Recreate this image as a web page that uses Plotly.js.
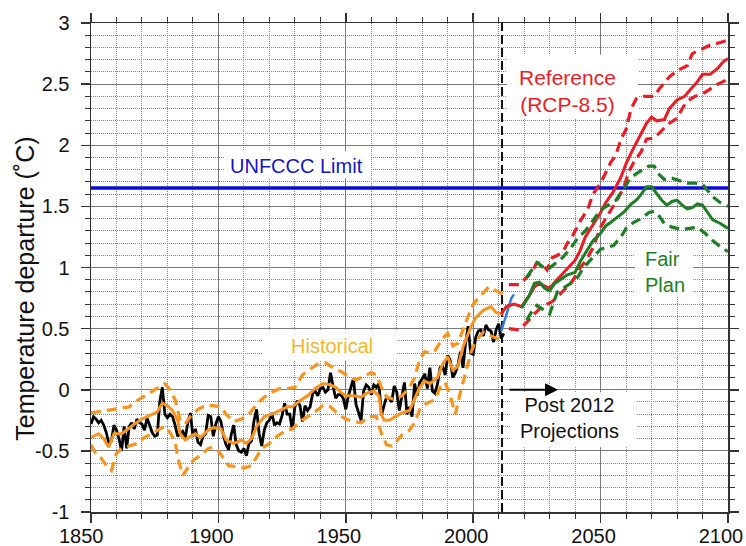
<!DOCTYPE html>
<html><head><meta charset="utf-8">
<script src="https://cdn.plot.ly/plotly-3.0.1.min.js"></script>
<style>html,body{margin:0;padding:0;background:#fff;}#chart{width:746px;height:546px;}</style>
</head><body><div id="chart"></div>
<script>
// ---------- DATA ----------
const obsYears = [1850,1851,1852,1853,1854,1855,1856,1857,1858,1859,
1860,1861,1862,1863,1864,1865,1866,1867,1868,1869,
1870,1871,1872,1873,1874,1875,1876,1877,1878,1879,
1880,1881,1882,1883,1884,1885,1886,1887,1888,1889,
1890,1891,1892,1893,1894,1895,1896,1897,1898,1899,
1900,1901,1902,1903,1904,1905,1906,1907,1908,1909,
1910,1911,1912,1913,1914,1915,1916,1917,1918,1919,
1920,1921,1922,1923,1924,1925,1926,1927,1928,1929,
1930,1931,1932,1933,1934,1935,1936,1937,1938,1939,
1940,1941,1942,1943,1944,1945,1946,1947,1948,1949,
1950,1951,1952,1953,1954,1955,1956,1957,1958,1959,
1960,1961,1962,1963,1964,1965,1966,1967,1968,1969,
1970,1971,1972,1973,1974,1975,1976,1977,1978,1979,
1980,1981,1982,1983,1984,1985,1986,1987,1988,1989,
1990,1991,1992,1993,1994,1995,1996,1997,1998,1999,
2000,2001,2002,2003,2004,2005,2006,2007,2008,2009,
2010,2011,2012];
const obsTemp = [-0.28,-0.22,-0.24,-0.27,-0.25,-0.29,-0.35,-0.44,-0.42,-0.29,
-0.33,-0.40,-0.50,-0.30,-0.48,-0.30,-0.27,-0.32,-0.24,-0.27,
-0.28,-0.33,-0.23,-0.30,-0.35,-0.38,-0.37,-0.10,0.02,-0.20,
-0.23,-0.20,-0.22,-0.29,-0.38,-0.36,-0.34,-0.39,-0.27,-0.19,
-0.38,-0.32,-0.43,-0.45,-0.38,-0.36,-0.21,-0.22,-0.38,-0.28,
-0.22,-0.26,-0.38,-0.45,-0.49,-0.37,-0.29,-0.45,-0.50,-0.51,
-0.48,-0.54,-0.44,-0.42,-0.25,-0.16,-0.36,-0.46,-0.33,-0.27,
-0.25,-0.19,-0.29,-0.27,-0.28,-0.21,-0.11,-0.20,-0.20,-0.33,
-0.14,-0.09,-0.13,-0.26,-0.13,-0.17,-0.14,-0.03,-0.01,-0.05,
0.01,0.02,-0.02,0.00,0.14,0.03,-0.07,-0.04,-0.04,-0.07,
-0.16,-0.05,0.03,0.09,-0.12,-0.18,-0.25,-0.01,0.04,0.02,
-0.04,0.04,0.02,0.05,-0.21,-0.13,-0.06,-0.07,-0.10,0.03,
-0.02,-0.17,-0.06,0.06,-0.20,-0.14,-0.22,0.05,-0.05,0.06,
0.09,0.13,0.01,0.18,-0.01,-0.03,0.05,0.18,0.19,0.12,
0.28,0.24,0.10,0.14,0.20,0.31,0.18,0.38,0.52,0.30,
0.29,0.43,0.48,0.49,0.44,0.53,0.49,0.48,0.39,0.49,
0.54,0.42,0.46];

const histMeanYears = [1850,1853,1855,1857,1859,1862,1864,1867,1870,1873,1876,1878,1880,1882,1884,1885,1887,1889,1891,1893,1896,1898,1901,1903,1906,1909,1911,1913,1915,1918,1921,1924,1927,1929,1932,1935,1938,1941,1944,1946,1948,1950,1953,1956,1958,1961,1963,1964,1965,1967,1970,1972,1975,1977,1979,1981,1983,1986,1988,1990,1992,1994,1996,1999,2001,2004,2007,2009,2012];
const histMean = [-0.39,-0.36,-0.40,-0.47,-0.36,-0.36,-0.33,-0.28,-0.24,-0.21,-0.18,-0.11,-0.13,-0.17,-0.25,-0.36,-0.41,-0.38,-0.36,-0.39,-0.33,-0.31,-0.32,-0.41,-0.44,-0.41,-0.44,-0.40,-0.30,-0.22,-0.20,-0.17,-0.14,-0.14,-0.09,-0.05,0.01,0.05,0.04,0.02,-0.02,-0.05,-0.05,-0.06,-0.03,-0.01,-0.05,-0.20,-0.25,-0.25,-0.21,-0.19,-0.17,-0.08,0.02,0.07,0.05,0.10,0.21,0.27,0.16,0.19,0.35,0.51,0.59,0.65,0.68,0.63,0.62];

const histHiYears = [1850,1853,1856,1859,1862,1865,1868,1871,1874,1877,1879,1881,1883,1885,1887,1889,1892,1895,1898,1901,1903,1906,1909,1912,1915,1918,1921,1924,1927,1930,1933,1936,1939,1942,1945,1948,1951,1954,1957,1960,1962,1964,1966,1969,1972,1975,1977,1979,1981,1983,1985,1988,1990,1992,1994,1996,1998,2000,2003,2006,2008,2010,2012];
const histHi = [-0.19,-0.18,-0.17,-0.16,-0.15,-0.14,-0.09,-0.05,-0.01,0.03,0.05,0.00,-0.08,-0.25,-0.28,-0.22,-0.16,-0.13,-0.13,-0.14,-0.20,-0.26,-0.24,-0.20,-0.12,-0.06,-0.02,0.01,0.01,0.02,0.12,0.17,0.21,0.22,0.18,0.15,0.11,0.08,0.11,0.14,0.12,0.02,-0.06,-0.08,-0.05,0.02,0.10,0.25,0.31,0.30,0.32,0.42,0.46,0.36,0.38,0.50,0.60,0.70,0.77,0.84,0.82,0.80,0.78];

const histLoYears = [1850,1852,1854,1856,1858,1860,1862,1865,1868,1871,1874,1877,1879,1881,1883,1884,1886,1888,1890,1892,1894,1896,1898,1900,1902,1904,1907,1910,1913,1915,1917,1920,1923,1926,1929,1932,1935,1938,1941,1944,1947,1950,1953,1956,1959,1962,1964,1966,1968,1970,1972,1975,1977,1979,1981,1983,1985,1987,1989,1991,1993,1995,1997,1999,2001,2004,2007,2010,2012];
const histLo = [-0.45,-0.53,-0.56,-0.62,-0.66,-0.52,-0.48,-0.46,-0.44,-0.39,-0.36,-0.32,-0.30,-0.35,-0.42,-0.55,-0.70,-0.64,-0.58,-0.55,-0.52,-0.48,-0.47,-0.50,-0.56,-0.62,-0.63,-0.64,-0.62,-0.55,-0.48,-0.44,-0.38,-0.34,-0.32,-0.26,-0.22,-0.18,-0.13,-0.14,-0.20,-0.24,-0.26,-0.27,-0.22,-0.22,-0.36,-0.45,-0.46,-0.42,-0.37,-0.33,-0.27,-0.16,-0.12,-0.10,-0.08,0.02,0.06,-0.05,-0.20,-0.02,0.15,0.30,0.40,0.47,0.44,0.42,0.40];

const recentYears = [2011,2012,2013,2014,2015,2016];
const recentTemp = [0.48,0.55,0.62,0.69,0.75,0.78];

const refYears = [2011,2013,2016,2019,2022,2024,2026,2028,2030,2032,2035,2037,2040,2042,2044,2047,2050,2052,2055,2058,2060,2063,2066,2068,2070,2072,2075,2077,2080,2083,2085,2088,2090,2093,2096,2098,2100];
const refMid = [0.62,0.68,0.70,0.68,0.77,0.84,0.87,0.85,0.83,0.88,0.95,0.99,1.06,1.14,1.25,1.35,1.45,1.53,1.62,1.74,1.85,1.98,2.10,2.18,2.23,2.20,2.21,2.30,2.37,2.40,2.45,2.52,2.58,2.58,2.63,2.68,2.71];
const refHiYears = [2014,2018,2021,2023,2025,2027,2029,2031,2035,2037,2039,2042,2045,2047,2050,2052,2054,2056,2058,2060,2062,2064,2067,2071,2073,2077,2080,2084,2086,2089,2093,2097,2100];
const refHi = [0.86,0.86,0.92,0.96,1.04,1.03,0.98,1.08,1.12,1.20,1.26,1.38,1.48,1.60,1.69,1.78,1.86,1.92,2.05,2.13,2.30,2.38,2.40,2.40,2.46,2.56,2.61,2.65,2.75,2.78,2.82,2.84,2.86];
const refLoYears = [2014,2018,2021,2024,2027,2031,2034,2037,2039,2042,2044,2047,2050,2052,2055,2057,2059,2061,2063,2066,2068,2071,2074,2077,2080,2082,2084,2087,2090,2093,2096,2100];
const refLo = [0.50,0.49,0.55,0.62,0.68,0.72,0.78,0.85,0.89,1.00,1.05,1.16,1.33,1.40,1.50,1.57,1.65,1.78,1.86,1.95,2.05,2.06,2.12,2.18,2.22,2.30,2.36,2.40,2.42,2.46,2.50,2.54];

const fairYears = [2019,2022,2024,2026,2028,2030,2032,2035,2037,2040,2042,2045,2047,2050,2052,2054,2056,2059,2062,2064,2066,2068,2070,2072,2074,2076,2078,2080,2082,2084,2086,2088,2090,2092,2094,2097,2100];
const fairMid = [0.67,0.77,0.87,0.88,0.83,0.81,0.87,0.91,0.94,0.96,1.05,1.15,1.22,1.28,1.34,1.37,1.40,1.45,1.52,1.55,1.60,1.66,1.66,1.60,1.55,1.51,1.54,1.55,1.51,1.48,1.49,1.52,1.51,1.45,1.39,1.36,1.32];
const fairHiYears = [2021,2023,2025,2029,2032,2035,2038,2041,2044,2047,2050,2053,2056,2059,2062,2065,2069,2071,2073,2075,2078,2081,2084,2087,2090,2092,2094,2097,2100];
const fairHi = [0.92,0.98,1.04,0.98,1.03,1.08,1.15,1.24,1.30,1.38,1.47,1.51,1.55,1.64,1.74,1.78,1.83,1.83,1.76,1.72,1.73,1.71,1.69,1.69,1.68,1.63,1.58,1.53,1.50];
const fairLoYears = [2021,2023,2025,2028,2030,2033,2036,2039,2041,2043,2046,2048,2050,2052,2055,2058,2060,2063,2066,2069,2071,2073,2075,2078,2082,2085,2088,2091,2094,2097,2100];
const fairLo = [0.57,0.64,0.69,0.65,0.62,0.80,0.84,0.88,0.92,0.99,1.06,1.11,1.15,1.16,1.18,1.25,1.32,1.37,1.40,1.45,1.46,1.42,1.36,1.33,1.31,1.32,1.33,1.28,1.22,1.17,1.13];

const limitYears = [1850, 2100];
const limitTemp = [1.65, 1.65];
const projectionStartYear = [2011.3, 2011.3];
const projectionLineSpan = [-1, 3];

const xTickVals = [1850,1900,1950,2000,2050,2100];
const xTickText = ['1850\u00a0','1900','1950','2000','2050','2100'];
const yTickVals = [-1,-0.5,0,0.5,1,1.5,2,2.5,3];
const yTickText = ['-1','-0.5','0','0.5','1','1.5','2','2.5','3'];

// ---------- STYLE ----------
const FONT = '"Liberation Sans", Arial, Helvetica, sans-serif';
const ORANGE = '#f7931e', RED = '#ec1c24', GREEN = '#1d7f24', BLUE = '#0a0ad8';
const DASH = '10px,6px';
function line(x, y, color, width, dash){
  return {type:'scatter', mode:'lines', x:x, y:y, line:{color:color, width:width, dash:dash||'solid'},
          hoverinfo:'skip', showlegend:false};
}
const traces = [
  line(projectionStartYear, projectionLineSpan, '#111', 2, '9px,4px'),
  line(limitYears, limitTemp, BLUE, 3.5),
  line(obsYears, obsTemp, '#000', 2.8),
  line(histMeanYears, histMean, ORANGE, 3),
  line(histHiYears, histHi, ORANGE, 3.2, DASH),
  line(histLoYears, histLo, ORANGE, 3.2, DASH),
  line(recentYears, recentTemp, '#2f7de1', 2.5),
  line(refYears, refMid, RED, 3),
  line(refHiYears, refHi, RED, 3.2, DASH),
  line(refLoYears, refLo, RED, 3.2, DASH),
  line(fairYears, fairMid, GREEN, 3),
  line(fairHiYears, fairHi, GREEN, 3.2, DASH),
  line(fairLoYears, fairLo, GREEN, 3.2, DASH)
];

const axisCommon = {
  ticks:'outside', ticklen:9, tickwidth:1.5, tickcolor:'#333',
  showline:true, linecolor:'#333', linewidth:1.5, mirror:'allticks',
  showgrid:true, gridcolor:'#7a7a7a', gridwidth:1, zeroline:false,
  tickfont:{family:FONT, size:20, color:'#111'}
};
function box(x0, x1, y0, y1){
  return {type:'rect', layer:'between', xref:'x', yref:'y', x0:x0, x1:x1, y0:y0, y1:y1,
          fillcolor:'#ffffff', line:{width:0}};
}
const layout = {
  width:746, height:546, autosize:false,
  margin:{l:91, r:18, t:23, b:34, pad:0},
  paper_bgcolor:'#ffffff', plot_bgcolor:'#ffffff',
  font:{family:FONT, size:20, color:'#111'},
  showlegend:false,
  xaxis:Object.assign({}, axisCommon, {
    range:[1850, 2100], tickmode:'array', tickvals:xTickVals, ticktext:xTickText,
    ticklabelstandoff:-4, ticklabelshift:-7, ticklabeloverflow:'allow',
    minor:{tick0:1850, dtick:10, ticks:'outside', ticklen:5, tickwidth:1, tickcolor:'#333',
           showgrid:true, gridcolor:'#8a8a8a', gridwidth:1, griddash:'1px,1px'}
  }),
  yaxis:Object.assign({}, axisCommon, {
    range:[-1, 3], tickmode:'array', tickvals:yTickVals, ticktext:yTickText,
    ticklabelstandoff:7,
    minor:{tick0:-1, dtick:0.1, ticks:'outside', ticklen:5, tickwidth:1, tickcolor:'#333',
           showgrid:true, gridcolor:'#8a8a8a', gridwidth:1, griddash:'1px,1px'}
  }),
  shapes:[
    box(2013.3, 2064.7, 2.22, 2.74),
    box(1902.5, 1959.5, 1.73, 1.95),
    box(2063.5, 2086.3, 0.76, 1.18),
    box(1917.1, 1970.1, 0.24, 0.49),
    box(2014.4, 2064.3, -0.47, -0.02)
  ],
  annotations:[
    {xref:'paper', yref:'paper', x:-0.104, y:0.456, text:'Temperature departure (˚C)', textangle:-90,
     showarrow:false, xanchor:'center', yanchor:'middle', font:{family:FONT, size:25, color:'#111'}},
    {x:2037.2, y:2.44, text:'Reference<br>(RCP-8.5)', showarrow:false,
     font:{family:FONT, size:21, color:RED}},
    {x:1930.5, y:1.83, text:'UNFCCC Limit', showarrow:false,
     font:{family:FONT, size:20, color:'#1414c8'}},
    {x:2066.8, y:0.96, text:'Fair<br>Plan', showarrow:false, align:'left', xanchor:'left',
     font:{family:FONT, size:20, color:GREEN}},
    {x:1944.6, y:0.36, text:'Historical', showarrow:false,
     font:{family:FONT, size:20, color:'#f5b71f'}},
    {x:2037.6, y:-0.234, text:'Post 2012<br>Projections', showarrow:false,
     font:{family:FONT, size:20, color:'#111'}},
    {x:2033.3, y:0, ax:2013.7, ay:0, axref:'x', ayref:'y', text:'', showarrow:true,
     arrowhead:2, arrowsize:1.3, arrowwidth:2, arrowcolor:'#000'}
  ]
};
Plotly.newPlot('chart', traces, layout, {staticPlot:true, displayModeBar:false});
</script>
</body></html>
